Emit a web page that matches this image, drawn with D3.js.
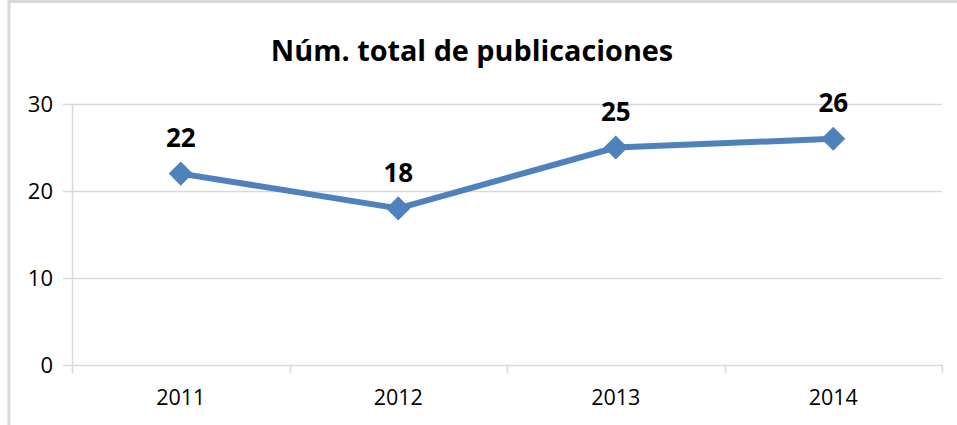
<!DOCTYPE html>
<html><head><meta charset="utf-8">
<script src="https://cdn.jsdelivr.net/npm/d3@7"></script>
<style>body{margin:0;background:#fff}svg{display:block}</style>
</head><body>
<script>
const categories = ["2011", "2012", "2013", "2014"];
const values = [22, 18, 25, 26];
const yTicks = [0, 10, 20, 30];
const title = "Núm. total de publicaciones";

const W = 957, H = 425;
const svg = d3.select("body").append("svg").attr("width", W).attr("height", H);
const font = "'Open Sans', sans-serif";

// frame
svg.append("line").attr("x1", 9).attr("x2", 9).attr("y1", 0).attr("y2", H)
  .attr("stroke", "#d9d9d9").attr("stroke-width", 3);
svg.append("line").attr("x1", 9).attr("x2", W).attr("y1", 1.5).attr("y2", 1.5)
  .attr("stroke", "#d9d9d9").attr("stroke-width", 3);

const x = d3.scaleBand().domain(categories).range([72, 942]);
const y = d3.scaleLinear().domain([0, 30]).range([365, 104]);

// gridlines
svg.append("g").selectAll("line").data(yTicks).join("line")
  .attr("x1", 63).attr("x2", 942)
  .attr("y1", d => Math.round(y(d)) + 0.5).attr("y2", d => Math.round(y(d)) + 0.5)
  .attr("stroke", "#d9d9d9").attr("stroke-width", 1.5);

// y axis line
svg.append("line").attr("x1", 72.5).attr("x2", 72.5).attr("y1", y(30)).attr("y2", 373)
  .attr("stroke", "#d9d9d9").attr("stroke-width", 1.5);

// x ticks at band boundaries
const bounds = categories.map(c => x(c)).concat([x.range()[1]]);
svg.append("g").selectAll("line").data(bounds).join("line")
  .attr("x1", d => Math.round(d) + 0.5).attr("x2", d => Math.round(d) + 0.5)
  .attr("y1", 365).attr("y2", 373)
  .attr("stroke", "#d9d9d9").attr("stroke-width", 1.5);

// y labels
svg.append("g").selectAll("text").data(yTicks).join("text")
  .attr("x", 53).attr("y", d => y(d)).attr("dy", "0.35em")
  .attr("text-anchor", "end").attr("font-family", font).attr("font-size", 22)
  .attr("fill", "#000").text(d => d);

// x labels
svg.append("g").selectAll("text").data(categories).join("text")
  .attr("x", d => x(d) + x.bandwidth() / 2).attr("y", 405)
  .attr("text-anchor", "middle").attr("font-family", font).attr("font-size", 21.5)
  .attr("fill", "#000").text(d => d);

// title
svg.append("text").attr("x", 472).attr("y", 61).attr("text-anchor", "middle")
  .attr("font-family", font).attr("font-weight", "bold").attr("font-size", 28.8)
  .attr("fill", "#000").text(title);

const cx = (d, i) => x(categories[i]) + x.bandwidth() / 2;
// line
svg.append("path").datum(values)
  .attr("d", d3.line().x((d, i) => cx(d, i)).y(d => y(d)))
  .attr("fill", "none").attr("stroke", "#4F81BD").attr("stroke-width", 6)
  .attr("stroke-linejoin", "round");

// markers
svg.append("g").selectAll("path").data(values).join("path")
  .attr("d", d3.symbol(d3.symbolSquare, 290))
  .attr("transform", (d, i) => `translate(${cx(d, i)},${y(d)}) rotate(45)`)
  .attr("fill", "#4F81BD");

// data labels
svg.append("g").selectAll("text").data(values).join("text")
  .attr("x", (d, i) => cx(d, i)).attr("y", d => y(d) - 26.5)
  .attr("text-anchor", "middle").attr("font-family", font).attr("font-weight", "bold")
  .attr("font-size", 26).attr("fill", "#000").text(d => d);
</script>
</body></html>
